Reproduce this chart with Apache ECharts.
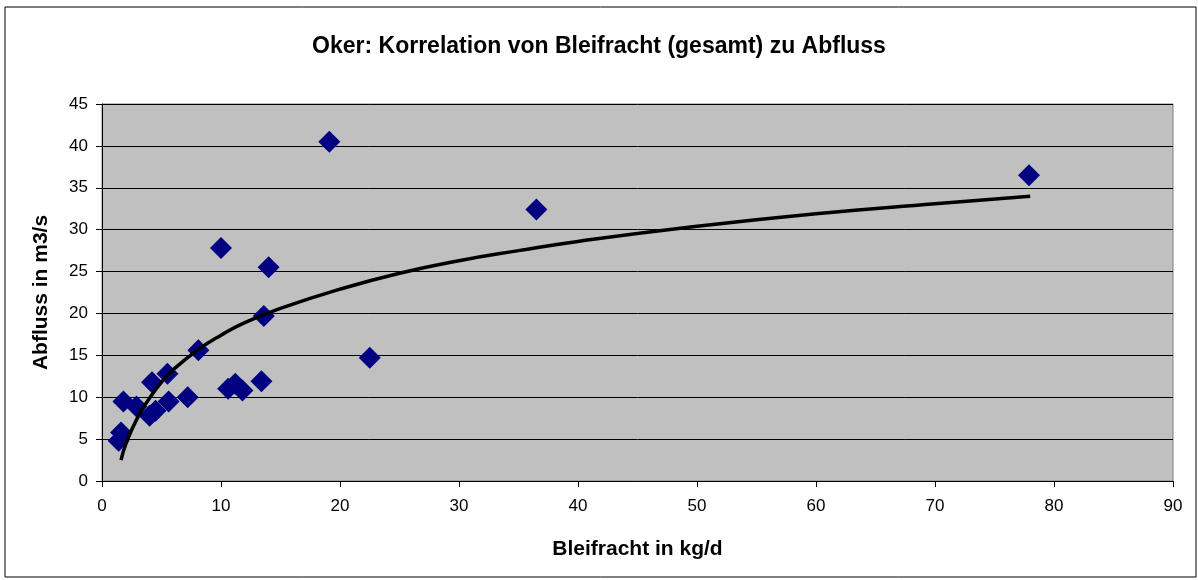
<!DOCTYPE html>
<html>
<head>
<meta charset="utf-8">
<script src="https://cdn.jsdelivr.net/npm/echarts@6/dist/echarts.min.js"></script>
<style>
	html, body { margin: 0; padding: 0; background: #fff; }
	#chart { width: 1198px; height: 580px; }
</style>
</head>
<body>
<div id="chart"></div>
<script>
// Messpunkte: Bleifracht (kg/d) und Abfluss (m3/s)
var bleifracht = [1.4, 1.6, 1.8, 2.9, 4.0, 4.5, 4.2, 5.5, 5.6, 7.2, 8.1, 10.0, 10.6, 11.2, 11.8, 13.4, 13.6, 14.0, 19.1, 22.5, 36.5, 77.9];
var abfluss = [4.8, 5.8, 9.5, 8.9, 7.8, 8.4, 11.8, 12.8, 9.5, 10.0, 15.6, 27.8, 11.0, 11.6, 10.8, 11.9, 19.7, 25.5, 40.5, 14.7, 32.4, 36.5];

// Trendlinie (logarithmisch)
var trendX = [1.6, 2, 3, 4, 5, 6, 8, 10, 12, 15, 20, 25, 30, 35, 40, 50, 60, 70, 78];
var trendY = [2.5, 4.4, 7.6, 9.9, 11.8, 13.3, 15.6, 17.4, 18.9, 20.6, 22.9, 24.8, 26.3, 27.5, 28.6, 30.4, 31.9, 33.1, 34.0];

var xTicks = [0, 90, 10];
var yTicks = [0, 45, 5];

var punkte = [];
for (var i = 0; i < bleifracht.length; i++) {
	punkte.push([bleifracht[i], abfluss[i]]);
}
var trend = [];
for (var j = 0; j < trendX.length; j++) {
	trend.push([trendX[j], trendY[j]]);
}

var myChart = echarts.init(document.getElementById('chart'));
var option = {
	backgroundColor: '#fff',
	animation: false,
	textStyle: { fontFamily: 'Liberation Sans, Arial, sans-serif' },
	title: {
		text: 'Oker: Korrelation von Bleifracht (gesamt) zu Abfluss',
		left: 'center',
		top: 30,
		textStyle: {
			fontSize: 23,
			fontWeight: 'bold',
			color: '#000'
		}
	},
	graphic: [{
		type: 'rect',
		shape: { x: 5, y: 7, width: 1191, height: 570 },
		style: { fill: 'none', stroke: '#000', lineWidth: 1 },
		silent: true
	}],
	grid: {
		left: 102,
		right: 25,
		top: 104,
		bottom: 99,
		show: true,
		backgroundColor: '#C0C0C0',
		borderColor: '#808080',
		borderWidth: 1
	},
	xAxis: {
		type: 'value',
		min: xTicks[0],
		max: xTicks[1],
		interval: xTicks[2],
		name: 'Bleifracht in kg/d',
		nameLocation: 'middle',
		nameGap: 58,
		nameTextStyle: { fontSize: 21, fontWeight: 'bold', color: '#000' },
		axisLine: { lineStyle: { color: '#000', width: 1 } },
		axisTick: { show: true, inside: false, length: 6, lineStyle: { color: '#000' } },
		axisLabel: { fontSize: 17, color: '#000', margin: 17 },
		splitLine: { show: false }
	},
	yAxis: {
		type: 'value',
		min: yTicks[0],
		max: yTicks[1],
		interval: yTicks[2],
		name: 'Abfluss in m3/s',
		nameLocation: 'middle',
		nameGap: 50,
		nameTextStyle: { fontSize: 21, fontWeight: 'bold', color: '#000' },
		axisLine: { show: true, lineStyle: { color: '#000', width: 1 } },
		axisTick: { show: true, inside: false, length: 6, lineStyle: { color: '#000' } },
		axisLabel: { fontSize: 17, color: '#000', margin: 14 },
		splitLine: { show: true, lineStyle: { color: '#000', width: 1 } }
	},
	series: [
		{
			name: 'Abfluss',
			type: 'scatter',
			symbol: 'diamond',
			symbolSize: 22,
			itemStyle: { color: '#000080', opacity: 1 },
			data: punkte,
			z: 2
		},
		{
			name: 'Trend',
			type: 'line',
			smooth: true,
			showSymbol: false,
			lineStyle: { color: '#000', width: 3.5 },
			data: trend,
			z: 3
		}
	]
};
myChart.setOption(option);
</script>
</body>
</html>
